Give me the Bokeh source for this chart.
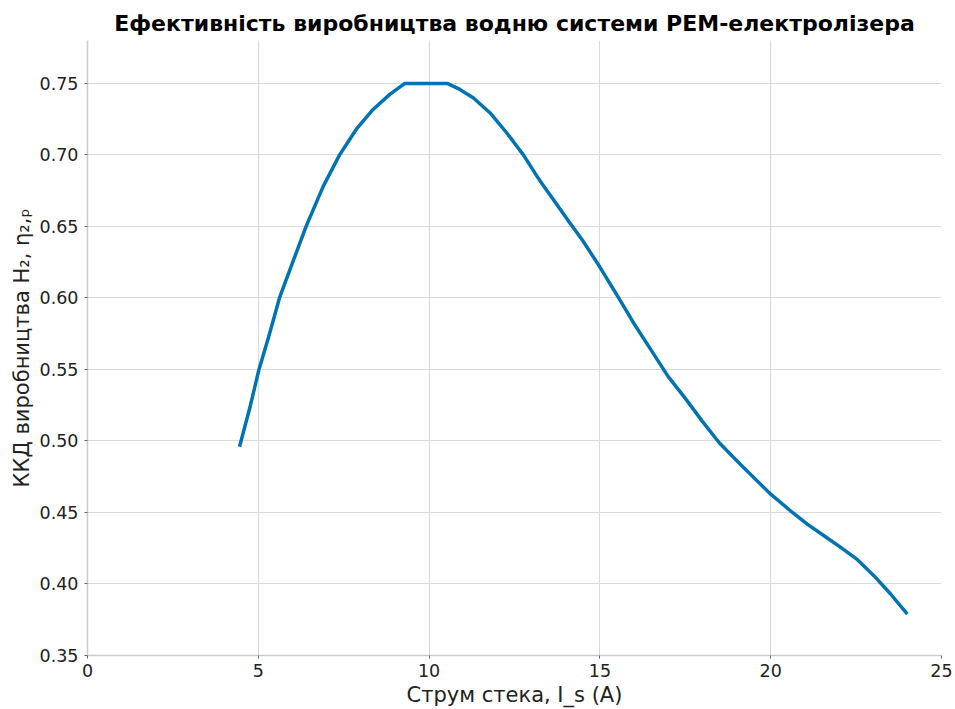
from bokeh.plotting import figure
from bokeh.embed import file_html
from bokeh.resources import INLINE
from bokeh.models import Range1d, FixedTicker, CustomJSTickFormatter

# Data
current = [4.45, 4.75, 5.02, 5.3, 5.62, 6.0, 6.4, 6.9, 7.38, 7.87, 8.36, 8.85, 9.29,
           10.53, 10.9, 11.29, 11.78, 12.27, 12.76, 13.25, 13.74, 14.08, 14.5, 15.0,
           15.5, 16.0, 16.5, 17.0, 17.5, 18.0, 18.5, 19.11, 20.0, 20.58, 21.07, 21.56,
           22.05, 22.54, 23.02, 23.51, 24.0]
efficiency = [0.496, 0.523, 0.55, 0.5725, 0.60, 0.6245, 0.65, 0.678, 0.70, 0.718, 0.7318,
              0.7423, 0.75, 0.75, 0.7458, 0.740, 0.7295, 0.7155, 0.70, 0.6817, 0.6654,
              0.6538, 0.640, 0.6216, 0.602, 0.582, 0.5635, 0.545, 0.5298, 0.5137, 0.4986,
              0.4837, 0.4628, 0.4512, 0.4419, 0.4337, 0.4256, 0.417, 0.4058, 0.393, 0.379]
x_ticks = [0, 5, 10, 15, 20, 25]
y_ticks = [0.35, 0.40, 0.45, 0.50, 0.55, 0.60, 0.65, 0.70, 0.75]

p = figure(width=955, height=709, output_backend="svg", toolbar_location=None,
           x_range=Range1d(0, 25), y_range=Range1d(0.35, 0.78),
           min_border_left=87, min_border_right=14, min_border_top=40, min_border_bottom=54)
p.outline_line_color = None
p.background_fill_color = "white"
p.border_fill_color = "white"

p.title.text = "Ефективність виробництва водню системи PEM-електролізера"
p.title.text_font = "DejaVu Sans"
p.title.text_font_size = "22px"
p.title.text_font_style = "bold"
p.title.align = "center"
p.title.text_color = "black"
p.title.standoff = 9

p.line(current, efficiency, line_color="#0173B2", line_width=3.5, line_join="round")

for ax in (p.xaxis[0], p.yaxis[0]):
    ax.axis_line_color = "#cccccc"
    ax.axis_line_width = 1.5
    ax.major_tick_line_color = "#666666"
    ax.major_tick_in = 0
    ax.major_tick_out = 3
    ax.minor_tick_line_color = None
    ax.major_label_text_font = "DejaVu Sans"
    ax.major_label_text_font_size = "17.5px"
    ax.major_label_text_color = "#222222"
    ax.axis_label_text_font = "DejaVu Sans"
    ax.axis_label_text_font_size = "21px"
    ax.axis_label_text_font_style = "normal"
    ax.axis_label_text_color = "#222222"

p.xaxis.ticker = FixedTicker(ticks=x_ticks)
p.yaxis.ticker = FixedTicker(ticks=y_ticks)
p.yaxis.formatter = CustomJSTickFormatter(code="return tick.toFixed(2);")
p.xaxis.axis_label = "Струм стека, I_s (A)"
p.yaxis.axis_label = "ККД виробництва H₂, η₂,ₚ"
p.xaxis.major_label_standoff = 5
p.yaxis.major_label_standoff = 6
p.xaxis.axis_label_standoff = 3
p.yaxis.axis_label_standoff = 3

p.xgrid.grid_line_color = "#d9d9d9"
p.ygrid.grid_line_color = "#d9d9d9"
p.xgrid.grid_line_width = 1
p.ygrid.grid_line_width = 1

open("out.html", "w").write(file_html(p, INLINE))
